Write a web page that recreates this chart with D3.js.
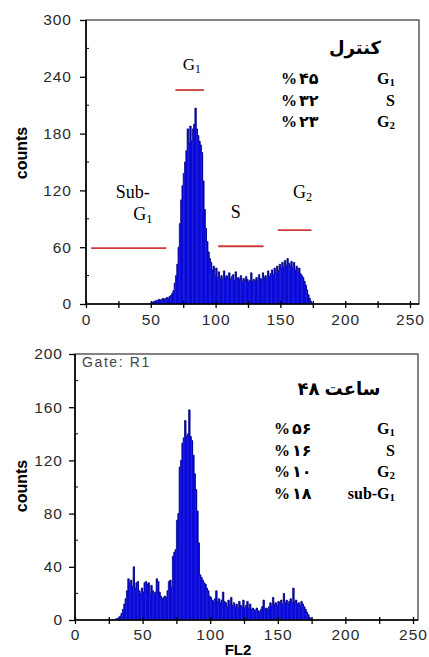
<!DOCTYPE html>
<html>
<head>
<meta charset="utf-8">
<script src="https://cdn.jsdelivr.net/npm/d3@7"></script>
<style>
  body { margin: 0; background: #fff; }
  svg { display: block; }
</style>
</head>
<body>
<svg id="chart" width="429" height="657"></svg>
<script>
// FL2 histograms, one count per channel, starting at the given channel
var controlStart = 50;
var controlCounts = [
  0, 2, 3, 3, 4, 4, 5, 4, 5, 6,
  5, 6, 7, 6, 8, 9, 11, 14, 22, 30,
  42, 60, 85, 110, 125, 138, 150, 162, 185, 170,
  188, 172, 185, 190, 207, 185, 178, 172, 168, 160,
  130, 100, 80, 66, 55, 48, 44, 36, 40, 30,
  38, 28, 34, 27, 30, 26, 35, 28, 30, 27,
  33, 26, 29, 31, 25, 34, 27, 28, 26, 30,
  24, 27, 25, 29, 26, 23, 25, 33, 24, 26,
  25, 28, 24, 31, 27, 26, 33, 28, 30, 27,
  35, 29, 32, 36, 31, 38, 33, 40, 35, 42,
  37, 44, 39, 46, 41, 48, 43, 40, 45, 38,
  44, 36, 40, 34, 38, 32, 30, 28, 24, 20,
  15, 10, 6, 3, 1
];
var treatedStart = 30;
var treatedCounts = [
  1, 1, 2, 3, 5, 8, 12, 16, 22, 31,
  28, 30, 25, 40, 24, 28, 29, 22, 20, 24,
  21, 28, 29, 27, 28, 20, 26, 22, 20, 21,
  31, 29, 21, 18, 16, 17, 18, 17, 22, 29,
  30, 25, 48, 51, 53, 75, 80, 115, 120, 133,
  137, 150, 138, 140, 158, 138, 135, 124, 110, 98,
  82, 58, 34, 32, 30, 28, 27, 24, 22, 18,
  17, 15, 14, 16, 22, 14, 16, 13, 15, 21,
  14, 13, 10, 15, 12, 17, 11, 13, 10, 12,
  9, 14, 11, 10, 15, 9, 11, 14, 9, 12,
  8, 9, 8, 7, 9, 7, 6, 8, 10, 15,
  8, 9, 8, 10, 13, 11, 17, 12, 13, 11,
  14, 13, 15, 12, 20, 13, 15, 12, 14, 16,
  13, 24, 14, 15, 12, 13, 11, 14, 12, 10,
  8, 6, 4, 2, 1
];

var xTicks = [0, 50, 100, 150, 200, 250];
var controlYTicks = [0, 60, 120, 180, 240, 300];
var treatedYTicks = [0, 40, 80, 120, 160, 200];

var controlTitle = "کنترل";
var controlPhases = ["G1", "S", "G2"];
var controlPercents = ["۴۵", "۳۲", "۲۳"];
var treatedTitle = "۴۸ ساعت";
var treatedPhases = ["G1", "S", "G2", "sub-G1"];
var treatedPercents = ["۵۶", "۱۶", "۱۰", "۱۸"];

// gate markers drawn on the control histogram (channel range, count level)
var gateNames = ["Sub-G1", "G1", "S", "G2"];
var gateFrom = [4, 69, 102, 148];
var gateTo = [62, 91, 137, 174];
var gateLevel = [59, 226, 61, 78];

var svg = d3.select("#chart");
var sans = "'Liberation Sans', Arial, sans-serif";
var serif = "'Liberation Serif', 'Times New Roman', 'DejaVu Sans', serif";

// writes "G1" style text with the digit as a subscript
function phaseText(sel, name) {
  var m = name.match(/^(.*G)(\d)$/);
  if (!m) { sel.text(name); return; }
  sel.append("tspan").text(m[1]);
  sel.append("tspan").attr("font-size", "0.68em").attr("dy", "0.22em").text(m[2]);
}

// title words are laid out one by one, left to right, so the number stays on the left
function drawTitle(g, title, cx, ty) {
  var words = title.split(" ");
  var gap = 5;
  var nodes = words.map(function(w) {
    return g.append("text").attr("y", ty)
      .attr("font-family", serif).attr("font-weight", "bold").attr("font-size", 18)
      .text(w);
  });
  var widths = nodes.map(function(n) { return n.node().getComputedTextLength(); });
  var total = d3.sum(widths) + gap * (words.length - 1);
  var pos = cx - total / 2;
  nodes.forEach(function(n, i) {
    n.attr("x", pos);
    pos += widths[i] + gap;
  });
}

function drawPanel(p) {
  var g = svg.append("g");
  var x = d3.scaleLinear().domain([0, 250]).range([p.left, p.x250]);
  var y = d3.scaleLinear().domain([0, p.yMax]).range([p.bottom, p.top]);
  var bins = p.counts.map(function(c, i) { return { ch: p.start + i, n: c }; });

  g.append("rect")
    .attr("x", p.left).attr("y", p.top)
    .attr("width", p.right - p.left).attr("height", p.bottom - p.top)
    .attr("fill", "none").attr("stroke", "#333").attr("stroke-width", 1.2);

  g.selectAll(".bar").data(bins).enter().append("rect")
    .attr("class", "bar")
    .attr("x", function(d) { return x(d.ch); })
    .attr("width", function(d) { return x(d.ch + 1) - x(d.ch) + 0.4; })
    .attr("y", function(d) { return y(d.n); })
    .attr("height", function(d) { return y(0) - y(d.n); })
    .attr("fill", "#0a0ad8");

  var outline = d3.line().curve(d3.curveStepAfter)
    .x(function(d) { return x(d.ch); })
    .y(function(d) { return y(d.n); });
  g.append("path")
    .datum(bins.concat([{ ch: p.start + bins.length, n: 0 }]))
    .attr("d", outline)
    .attr("fill", "none").attr("stroke", "#000070").attr("stroke-width", 0.7);

  // x axis: labelled every 50, small ticks every 25
  var xa = g.append("g").attr("transform", "translate(0," + p.bottom + ")")
    .call(d3.axisBottom(x).tickValues(d3.range(0, 251, 25))
      .tickFormat(function(d) { return xTicks.indexOf(d) >= 0 ? d : ""; })
      .tickSizeOuter(0).tickSize(4).tickPadding(p.xPad));
  xa.select(".domain").attr("stroke", "#000").attr("stroke-width", 1.6)
    .attr("d", "M" + p.left + ",0H" + p.right);
  xa.selectAll(".tick line").attr("y1", -3).attr("stroke", "#000").attr("stroke-width", 1.3);

  var ya = g.append("g").attr("transform", "translate(" + p.left + ",0)")
    .call(d3.axisLeft(y).tickValues(p.yTicks).tickSizeOuter(0).tickSize(6).tickPadding(p.yPad));
  ya.select(".domain").attr("stroke", "#000").attr("stroke-width", 1.6)
    .attr("d", "M0," + p.top + "V" + p.bottom);
  ya.selectAll(".tick line").attr("stroke", "#000").attr("stroke-width", 1.3);

  var step = p.yTicks[1] - p.yTicks[0];
  g.selectAll(".minor").data(p.yTicks.slice(1)).enter().append("line")
    .attr("x1", p.left).attr("x2", p.left + 3)
    .attr("y1", function(d) { return y(d - step / 2); })
    .attr("y2", function(d) { return y(d - step / 2); })
    .attr("stroke", "#000").attr("stroke-width", 1);

  g.selectAll(".tick text")
    .attr("font-family", sans).attr("font-size", 15.5)
    .attr("letter-spacing", 1).attr("fill", "#2a2a2a");

  g.append("text")
    .attr("transform", "translate(27," + p.countsY + ") rotate(-90)")
    .attr("text-anchor", "middle")
    .attr("font-family", sans).attr("font-weight", "bold").attr("font-size", 16)
    .text("counts");

  drawTitle(g, p.title, p.titleX, p.titleY);

  p.phases.forEach(function(name, i) {
    var ty = p.rowY + i * p.rowStep;
    g.append("text")
      .attr("x", p.pctX).attr("y", ty)
      .attr("font-family", serif).attr("font-weight", "bold").attr("font-size", 16)
      .text("%");
    g.append("text")
      .attr("x", p.pctX + 18).attr("y", ty)
      .attr("font-family", serif).attr("font-weight", "bold").attr("font-size", 16)
      .text(p.percents[i]);
    g.append("text")
      .attr("x", 395).attr("y", ty)
      .attr("text-anchor", "end")
      .attr("font-family", serif).attr("font-weight", "bold").attr("font-size", 16)
      .call(phaseText, name);
  });

  return { g: g, x: x, y: y };
}

var controlPanel = drawPanel({
  start: controlStart, counts: controlCounts, yMax: 300, yTicks: controlYTicks,
  left: 86, x250: 410, right: 419, top: 20, bottom: 304,
  xPad: 6, yPad: 8, countsY: 153,
  title: controlTitle, titleX: 355, titleY: 54,
  phases: controlPhases, percents: controlPercents,
  pctX: 281, rowY: 84, rowStep: 21.5
});

var treatedPanel = drawPanel({
  start: treatedStart, counts: treatedCounts, yMax: 200, yTicks: treatedYTicks,
  left: 75, x250: 413, right: 418, top: 354, bottom: 620,
  xPad: 5, yPad: 6, countsY: 486,
  title: treatedTitle, titleX: 339, titleY: 395,
  phases: treatedPhases, percents: treatedPercents,
  pctX: 274, rowY: 434, rowStep: 21.5
});

// gate bars and their labels on the control panel
var labelShift = [[4, -50], [2, -20], [-5, -28], [8, -32]];
gateNames.forEach(function(name, i) {
  var x = controlPanel.x, y = controlPanel.y, g = controlPanel.g;
  var x0 = x(gateFrom[i]), x1 = x(gateTo[i]), ly = y(gateLevel[i]);
  g.append("line")
    .attr("x1", x0).attr("x2", x1).attr("y1", ly).attr("y2", ly)
    .attr("stroke", "#d03a3a").attr("stroke-width", 1.8);
  var cx = (x0 + x1) / 2 + labelShift[i][0];
  var t = g.append("text")
    .attr("x", cx).attr("y", ly + labelShift[i][1])
    .attr("text-anchor", "middle")
    .attr("font-family", serif).attr("font-size", name === "G1" ? 17 : 18);
  if (name === "Sub-G1") {
    t.text("Sub-");
    g.append("text")
      .attr("x", cx + 10).attr("y", ly + labelShift[i][1] + 22)
      .attr("text-anchor", "middle")
      .attr("font-family", serif).attr("font-size", 18)
      .call(phaseText, "G1");
  } else {
    t.call(phaseText, name);
  }
});

treatedPanel.g.append("text")
  .attr("x", 82).attr("y", 367)
  .attr("font-family", sans).attr("font-size", 14).attr("letter-spacing", 1.6)
  .attr("fill", "#444")
  .text("Gate: R1");

treatedPanel.g.append("text")
  .attr("x", 238).attr("y", 655)
  .attr("text-anchor", "middle")
  .attr("font-family", sans).attr("font-weight", "bold").attr("font-size", 15)
  .text("FL2");
</script>
</body>
</html>
